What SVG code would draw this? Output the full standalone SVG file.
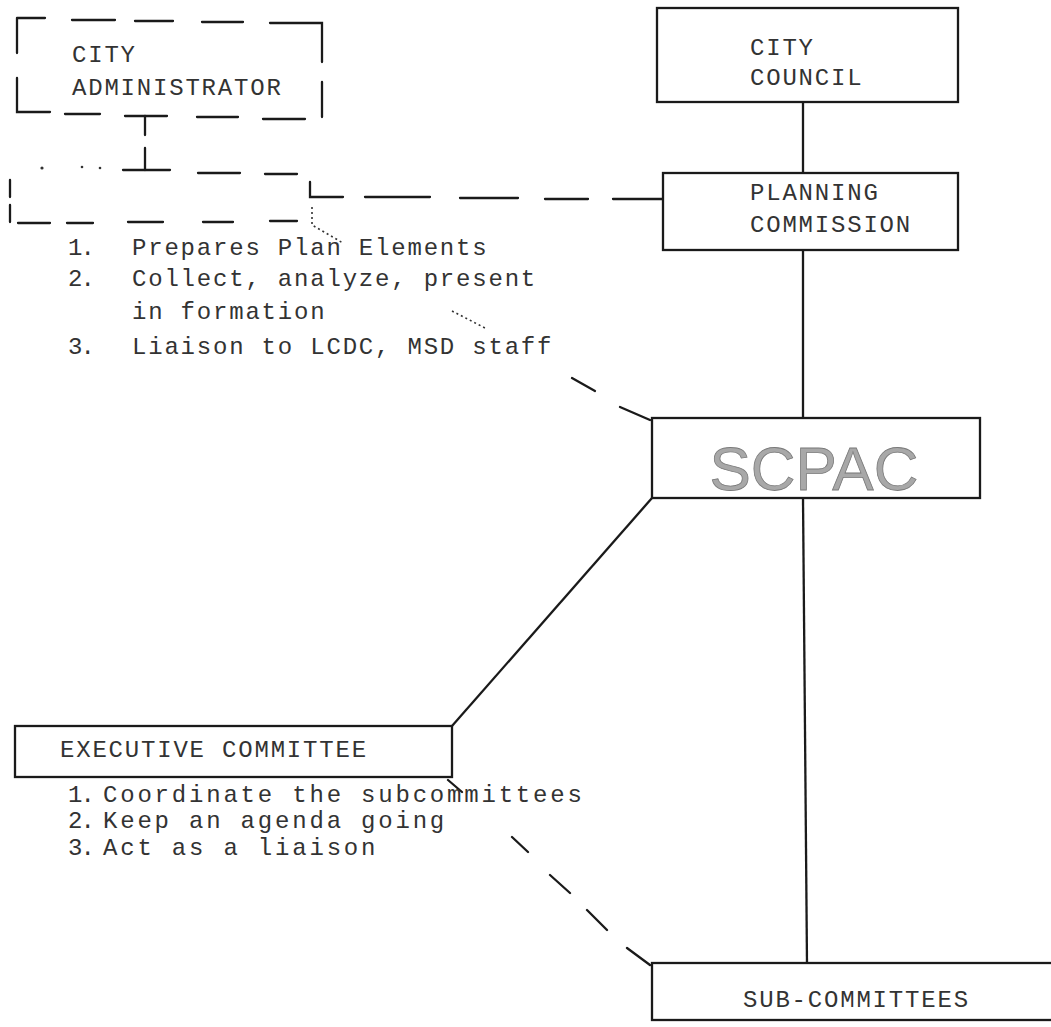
<svg xmlns="http://www.w3.org/2000/svg" width="1051" height="1027" viewBox="0 0 1051 1027">
<style>
.bg{fill:#fff}
.box{fill:none;stroke:#1a1a1a;stroke-width:2.3}
.dash{fill:none;stroke:#1a1a1a;stroke-width:2.3;stroke-linecap:round}
.line{fill:none;stroke:#1a1a1a;stroke-width:2.3}
.dot{fill:none;stroke:#333;stroke-width:1.6;stroke-dasharray:2 3}
.t{font-family:"Liberation Mono","DejaVu Sans Mono",monospace;font-size:24px;fill:#333;letter-spacing:1.8px}
.t2{font-family:"Liberation Mono","DejaVu Sans Mono",monospace;font-size:24px;fill:#333;letter-spacing:2.8px}
.n{font-family:"Liberation Mono","DejaVu Sans Mono",monospace;font-size:24px;fill:#333;letter-spacing:-2px}
.big{font-family:"Liberation Sans",Arial,sans-serif;font-size:62px;fill:#a8a8a8;stroke:#7a7a7a;stroke-width:0.8;text-anchor:middle}
</style>
<rect class="bg" x="0" y="0" width="1051" height="1027"/>

<g id="connectors">
  <path class="dash" d="M145,116 V135 M145,148 V170"/>
  <path class="dash" d="M365,197 H430 M460,198 H518 M545,199 H588 M613,199 H663"/>
  <path class="dot" d="M312,207 V225 L343,243"/>
  <path class="dot" d="M452,311 L485,328"/>
  <path class="dash" d="M572,378 L595,391 M620,407 L650,420"/>
  <path class="line" d="M803,102 V173"/>
  <path class="line" d="M803,250 V418"/>
  <path class="line" d="M803,498 L807,963"/>
  <path class="line" d="M652,498 L452,726"/>
  <path class="dash" d="M448,780 L462,792 M512,837 L528,852 M550,875 L570,893 M587,910 L607,930 M627,948 L650,965"/>
</g>

<g id="city-administrator">
  <path class="dash" d="M17,18 H45 M72,20 H115 M135,21 H173 M202,22 H243 M270,23 H322 V62 M322,82 V117 M17,18 V53 M17,78 V112 H50 M65,114 H100 M125,116 H167 M197,117 H238 M263,119 H305"/>
  <text class="t" x="72" y="62">CITY</text>
  <text class="t" x="72" y="95">ADMINISTRATOR</text>
</g>

<g id="staff">
  <circle cx="42" cy="168" r="1.6" fill="#333"/>
  <circle cx="82" cy="167" r="1.3" fill="#333"/>
  <circle cx="100" cy="168" r="1.3" fill="#333"/>
  <path class="dash" d="M123,170 H170 M198,173 H240 M265,174 H297 M10,180 V197 M10,205 V222 M18,223 H50 M67,223 H93 M128,222 H163 M203,222 H233 M270,221 H297 M310,182 V197 H343"/>
  <text class="n" x="68" y="255">1.</text>
  <text class="t" x="132" y="255">Prepares Plan Elements</text>
  <text class="n" x="68" y="286">2.</text>
  <text class="t" x="132" y="286">Collect, analyze, present</text>
  <text class="t" x="132" y="319">in formation</text>
  <text class="n" x="68" y="354">3.</text>
  <text class="t" x="132" y="354">Liaison to LCDC, MSD staff</text>
</g>

<g id="city-council">
  <rect class="box" x="657" y="8" width="301" height="94"/>
  <text class="t" x="750" y="55">CITY</text>
  <text class="t" x="750" y="85">COUNCIL</text>
</g>

<g id="planning-commission">
  <rect class="box" x="663" y="173" width="295" height="77"/>
  <text class="t" x="750" y="200">PLANNING</text>
  <text class="t" x="750" y="232">COMMISSION</text>
</g>

<g id="scpac">
  <rect class="box" x="652" y="418" width="328" height="80"/>
  <text class="big" x="814" y="490">SCPAC</text>
</g>

<g id="executive-committee">
  <rect class="box" x="15" y="726" width="437" height="51"/>
  <text class="t" x="60" y="757">EXECUTIVE COMMITTEE</text>
  <text class="n" x="68" y="802">1.</text>
  <text class="t2" x="103" y="802">Coordinate the subcommittees</text>
  <text class="n" x="68" y="828">2.</text>
  <text class="t2" x="103" y="828">Keep an agenda going</text>
  <text class="n" x="68" y="855">3.</text>
  <text class="t2" x="103" y="855">Act as a liaison</text>
</g>

<g id="sub-committees">
  <rect class="box" x="652" y="963" width="430" height="57"/>
  <text class="t" x="743" y="1007">SUB-COMMITTEES</text>
</g>
</svg>
